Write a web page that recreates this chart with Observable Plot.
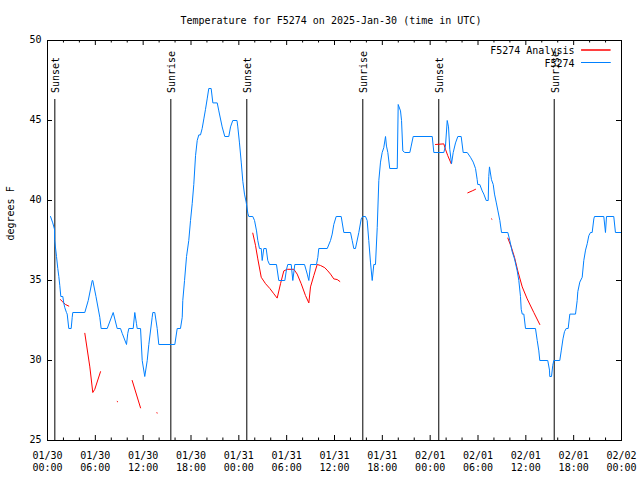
<!DOCTYPE html>
<html><head><meta charset="utf-8">
<script src="https://cdn.jsdelivr.net/npm/d3@7"></script>
<script src="https://cdn.jsdelivr.net/npm/@observablehq/plot@0.6"></script>
<style>body{margin:0;background:#fff}</style>
</head><body><div id="chart"></div>
<script>
const title = "Temperature for F5274 on 2025-Jan-30 (time in UTC)";
const yLabel = "degrees F";
const startTime = "2025-01-30T00:00:00Z";
const endTime = "2025-02-02T00:00:00Z";
const yTicks = [25, 30, 35, 40, 45, 50];
const majorTickHours = [0, 6, 12, 18, 24, 30, 36, 42, 48, 54, 60, 66, 72];
const minorTickHours = [2, 4, 8, 10, 14, 16, 20, 22, 26, 28, 32, 34, 38, 40, 44, 46, 50, 52, 56, 58, 62, 64, 68, 70];
const seriesNames = ["F5274 Analysis", "F5274"];
const seriesColors = ["#ff0000", "#0080ff"];

// Sunset / sunrise markers (hours after 01/30 00:00 UTC)
const sunHours = [0.92, 15.47, 25.0, 39.55, 49.08, 63.56];
const sunLabels = ["Sunset", "Sunrise", "Sunset", "Sunrise", "Sunset", "Sunrise"];

// Observed F5274 temperature (hours after start, degrees F)
const obsHours = [0.38,0.66,0.88,0.9,1.13,1.29,1.42,1.54,1.67,1.92,2.04,2.17,2.38,2.47,2.67,2.97,3.1,3.17,4.68,5.11,5.61,5.68,6.08,6.56,6.73,7.49,8.24,8.74,9.16,9.37,9.91,10.07,10.2,10.75,10.95,11.16,11.25,11.67,11.88,12.2,12.51,12.71,13.13,13.21,13.46,13.76,13.96,15.97,16.27,16.68,16.9,16.97,17.19,17.44,17.72,17.94,18.15,18.35,18.57,18.78,18.98,19.19,19.4,19.61,19.82,20.03,20.23,20.53,20.74,21.29,21.49,21.91,22.24,22.74,22.96,23.24,23.77,23.87,24.08,24.3,24.5,24.71,24.92,25.13,25.25,25.75,25.97,26.22,26.38,26.59,26.81,26.93,27.13,27.43,27.63,27.85,28.72,29.01,29.77,29.98,30.14,30.57,30.77,31.02,32.24,32.58,32.78,32.99,33.74,33.91,34.03,35.09,35.5,35.71,35.91,36.21,36.84,37.17,38.01,38.22,38.42,38.63,39.05,39.35,39.55,39.89,40.1,40.3,40.52,40.73,40.93,41.14,41.36,41.56,41.77,41.98,42.18,42.4,42.52,42.69,42.93,43.87,43.99,44.28,44.41,44.57,44.82,45.45,45.62,45.87,48.26,48.46,49.71,49.92,50.14,50.3,50.46,50.68,50.89,51.18,51.47,51.89,52.14,52.65,53.06,53.4,53.69,53.9,53.97,54.22,54.53,54.73,55.03,55.28,55.35,55.44,55.69,55.91,56.07,56.28,56.48,56.74,56.95,57.74,57.99,58.29,58.58,58.92,59.12,59.33,59.42,59.55,59.75,59.96,61.21,61.43,61.63,61.75,62.75,62.97,63.0,63.22,63.38,63.51,64.26,64.44,64.66,64.85,65.06,65.31,65.52,66.23,66.44,66.52,66.77,67.07,67.27,67.49,67.7,67.9,68.11,68.32,68.53,68.61,69.78,69.99,70.12,71.03,71.24,72.0];
const obsTemps = [39.0,38.6,38.2,37.5,36.5,35.75,35.25,34.7,34.0,34.0,33.6,33.3,33.0,32.9,32.0,32.0,32.7,33.0,33.0,33.75,35.0,35.0,34.0,32.7,32.0,32.0,33.0,32.0,32.0,31.7,31.0,31.7,32.0,32.0,33.0,32.3,32.0,32.0,30.0,29.0,30.0,31.0,32.7,33.0,33.0,32.0,31.0,31.0,32.0,32.0,32.7,33.75,35.0,36.5,37.5,38.75,39.8,41.0,42.8,43.75,44.1,44.1,44.5,45.1,45.7,46.35,47.0,47.0,46.1,46.1,45.6,44.6,44.0,44.0,44.6,45.0,45.0,44.6,43.6,42.4,41.2,40.4,39.9,39.2,39.0,39.0,38.75,38.1,37.5,37.0,37.0,36.25,37.0,37.0,36.25,36.0,36.0,35.0,35.0,35.7,36.0,36.0,35.0,36.0,36.0,35.4,35.0,36.0,36.0,36.45,37.0,37.0,37.5,37.9,38.5,39.0,39.0,38.0,38.0,37.5,37.0,37.0,38.0,38.85,39.0,39.0,38.75,37.5,36.1,35.0,36.0,36.0,38.3,41.25,42.4,43.0,43.3,44.0,43.4,43.0,42.0,42.0,46.0,45.6,45.0,43.1,43.0,43.0,43.4,44.0,44.0,43.0,43.0,43.4,45.0,44.6,43.2,42.3,43.0,43.6,44.0,44.0,43.0,43.0,42.7,42.4,42.0,41.3,41.0,41.0,40.6,40.4,40.0,40.0,41.5,42.1,41.3,41.0,40.4,39.9,39.4,38.75,38.0,38.0,37.5,36.8,36.35,35.6,35.0,34.0,33.2,32.9,32.9,32.0,32.0,31.25,30.6,30.0,30.0,29.4,29.0,29.0,29.7,30.0,30.0,30.6,31.35,31.8,32.0,32.0,32.9,32.9,33.75,34.3,34.9,35.2,36.25,36.9,37.3,37.8,38.0,38.0,38.85,39.0,39.0,38.0,39.0,39.0,38.0,38.0];

// F5274 Analysis (null marks a gap between segments)
const anaHours = [1.63,1.84,2.04,2.26,2.67,null,4.68,5.31,5.68,5.93,6.65,null,8.74,8.8,null,10.62,11.67,null,13.71,13.77,null,25.75,26.09,26.38,26.81,27.35,27.89,28.39,28.81,29.23,29.64,30.07,30.9,31.32,31.82,32.36,32.78,32.99,33.4,33.83,34.24,34.78,35.16,35.5,35.91,36.34,36.67,null,48.67,49.71,49.92,50.21,50.64,null,52.72,53.27,53.69,null,55.69,55.75,null,57.74,58.17,58.58,58.99,59.55,60.17,61.0,61.75];
const anaTemps = [33.81,33.69,33.6,33.5,33.4,null,31.7,29.6,28.0,28.2,29.3,null,27.44,27.42,null,28.75,27.04,null,26.73,26.72,null,37.96,37.2,36.35,35.2,34.8,34.5,34.17,33.9,34.8,35.6,35.7,35.7,35.4,34.8,34.06,33.6,34.6,35.3,36.0,35.94,35.8,35.6,35.4,35.1,35.06,34.94,null,43.5,43.54,43.2,42.8,42.3,null,40.48,40.6,40.7,null,38.85,38.83,null,37.65,37.1,36.45,35.6,34.6,33.85,33.0,32.25];

const t0 = Date.parse(startTime);
const toDate = h => (h == null ? null : new Date(t0 + h * 3600000));
const obs = obsHours.map((h, i) => ({t: toDate(h), v: obsTemps[i]}));
const ana = anaHours.map((h, i) => ({t: toDate(h), v: anaTemps[i]}));
const sun = sunHours.map((h, i) => ({t: toDate(h), label: sunLabels[i]}));
const majorTicks = majorTickHours.map(toDate);
const minorTicks = minorTickHours.map(toDate);

const W = 640, H = 480, mL = 47, mR = 19, mT = 40, mB = 40;
const fw = W - mL - mR, fh = H - mT - mB;

const legendMarks = seriesNames.flatMap((name, i) => [
  Plot.text([name], {frameAnchor: "top-right", dx: -47, dy: 6.5 + i * 12.5, textAnchor: "end", fill: "black"}),
  Plot.vector([name], {frameAnchor: "top-right", dx: -40, dy: 9.5 + i * 12.5, rotate: 90, length: 29, anchor: "start", shape: "spike", r: 0, stroke: seriesColors[i], strokeWidth: 1})
]);

const chart = Plot.plot({
  width: W, height: H,
  marginLeft: mL, marginRight: mR, marginTop: mT, marginBottom: mB,
  style: {fontFamily: "DejaVu Sans Mono", fontSize: "10px", background: "white", color: "black"},
  x: {type: "utc", domain: [new Date(startTime), new Date(endTime)]},
  y: {domain: [25, 50]},
  marks: [
    Plot.axisX({ticks: majorTicks, tickFormat: d3.utcFormat("%m/%d\n%H:%M"), tickSize: 0, tickPadding: 10, lineHeight: 1.2, label: null}),
    Plot.axisY({ticks: yTicks, tickSize: 0, tickPadding: 6, dy: -1, label: null}),
    // inward ticks (gnuplot style), mirrored
    Plot.ruleY(yTicks, {y: d => d, insetRight: fw - 5, stroke: "black"}),
    Plot.ruleY(yTicks, {y: d => d, insetLeft: fw - 5, stroke: "black"}),
    Plot.ruleX(majorTicks, {x: d => d, insetTop: fh - 5, stroke: "black"}),
    Plot.ruleX(majorTicks, {x: d => d, insetBottom: fh - 5, stroke: "black"}),
    Plot.ruleX(minorTicks, {x: d => d, insetTop: fh - 2.5, stroke: "black"}),
    Plot.ruleX(minorTicks, {x: d => d, insetBottom: fh - 2.5, stroke: "black"}),
    // sunrise / sunset
    Plot.ruleX(sun, {x: "t", insetTop: 59, stroke: "black", strokeWidth: 1}),
    Plot.text(sun, {x: "t", text: "label", frameAnchor: "top", dy: 52.5, dx: -2.5, rotate: -90, textAnchor: "start", fill: "black"}),
    // data
    Plot.line(ana, {x: "t", y: "v", stroke: seriesColors[0], strokeWidth: 1}),
    Plot.line(obs, {x: "t", y: "v", stroke: seriesColors[1], strokeWidth: 1}),
    Plot.frame({stroke: "black", strokeWidth: 1}),
    ...legendMarks,
    Plot.text([title], {frameAnchor: "top", dy: -24, dx: -3.6, fill: "black"}),
    Plot.text([yLabel], {frameAnchor: "left", dx: -37, rotate: -90, fill: "black"})
  ]
});
document.getElementById("chart").appendChild(chart);
</script>
</body></html>
